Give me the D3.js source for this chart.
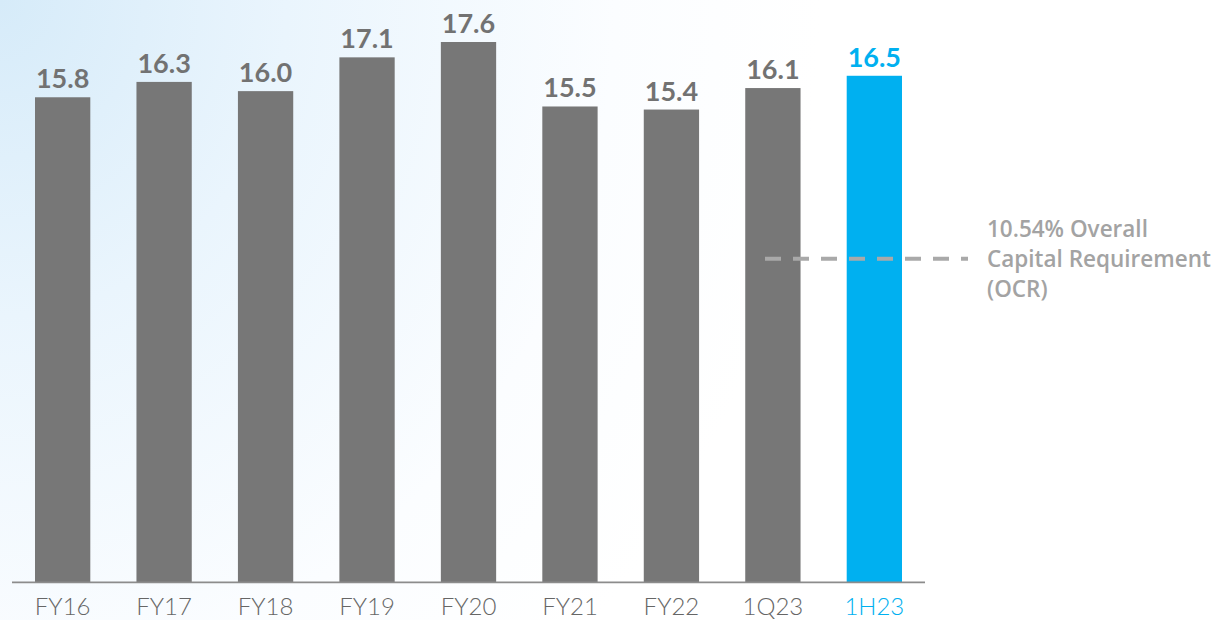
<!DOCTYPE html>
<html>
<head>
<meta charset="utf-8">
<script src="https://cdn.jsdelivr.net/npm/d3@7"></script>
<style>
  html, body { margin: 0; padding: 0; background: #fff; }
  svg { display: block; }
</style>
</head>
<body>
<svg id="chart" width="1225" height="620"></svg>
<script>
// Capital ratio by period (%)
const categories = ["FY16", "FY17", "FY18", "FY19", "FY20", "FY21", "FY22", "1Q23", "1H23"];
const values = [15.8, 16.3, 16.0, 17.1, 17.6, 15.5, 15.4, 16.1, 16.5];
const highlight = "1H23";
const ocrValue = 10.54;
const ocrLines = ["10.54% Overall", "Capital Requirement", "(OCR)"];

const W = 1225, H = 620;
const baseY = 582.4;
const svg = d3.select("#chart");

// soft blue wash in the upper-left corner
const defs = svg.append("defs");
const grad = defs.append("radialGradient")
  .attr("id", "bg").attr("gradientUnits", "userSpaceOnUse")
  .attr("cx", 0).attr("cy", 0).attr("r", 820)
  .attr("gradientTransform", "scale(1,1.1)");
grad.append("stop").attr("offset", 0).attr("stop-color", "#d6ebf9");
grad.append("stop").attr("offset", 0.35).attr("stop-color", "#eaf5fd");
grad.append("stop").attr("offset", 0.75).attr("stop-color", "#fbfdff");
grad.append("stop").attr("offset", 1).attr("stop-color", "#ffffff");
svg.append("rect").attr("width", W).attr("height", H).attr("fill", "url(#bg)");

const x = d3.scaleBand()
  .domain(categories)
  .range([35, 902])
  .paddingInner(0.455)
  .paddingOuter(0);

const y = d3.scaleLinear().domain([0, 17.6]).range([baseY, 42]);

const grey = "#777777", blue = "#00b0f0";

// bars
svg.append("g").selectAll("rect")
  .data(categories)
  .join("rect")
  .attr("x", d => x(d))
  .attr("width", x.bandwidth())
  .attr("y", (d, i) => y(values[i]))
  .attr("height", (d, i) => baseY - y(values[i]))
  .attr("fill", d => d === highlight ? blue : grey);

// value labels
svg.append("g").selectAll("text")
  .data(categories)
  .join("text")
  .attr("x", d => x(d) + x.bandwidth() / 2)
  .attr("y", (d, i) => y(values[i]) - 9)
  .attr("text-anchor", "middle")
  .attr("font-family", "Lato, sans-serif")
  .attr("font-weight", 700)
  .attr("font-size", 27)
  .attr("fill", d => d === highlight ? blue : "#727272")
  .text((d, i) => values[i].toFixed(1));

// category axis
const axis = svg.append("g")
  .attr("transform", `translate(0,${baseY})`)
  .call(d3.axisBottom(x).tickSize(0).tickPadding(15));
axis.select(".domain")
  .attr("d", "M12,0H925")
  .attr("stroke", "#8c8c8c")
  .attr("stroke-width", 1.8);
axis.selectAll(".tick text")
  .attr("font-family", "Lato, sans-serif")
  .attr("font-weight", 300)
  .attr("font-size", 24)
  .attr("dy", "0.72em")
  .attr("fill", d => d === highlight ? blue : "#666666");

// overall capital requirement reference
const ocrY = y(ocrValue);
svg.append("line")
  .attr("x1", 765).attr("x2", 968)
  .attr("y1", ocrY).attr("y2", ocrY)
  .attr("stroke", "#a9a9a9")
  .attr("stroke-width", 4)
  .attr("stroke-dasharray", "16 12");

svg.append("g").selectAll("text")
  .data(ocrLines)
  .join("text")
  .attr("x", 987)
  .attr("y", (d, i) => ocrY + (i - 1) * 30)
  .attr("dy", "0.35em")
  .attr("font-family", "'Open Sans', sans-serif")
  .attr("font-weight", 600)
  .attr("font-size", 22.5)
  .attr("fill", "#a3a3a3")
  .text(d => d);
</script>
</body>
</html>
